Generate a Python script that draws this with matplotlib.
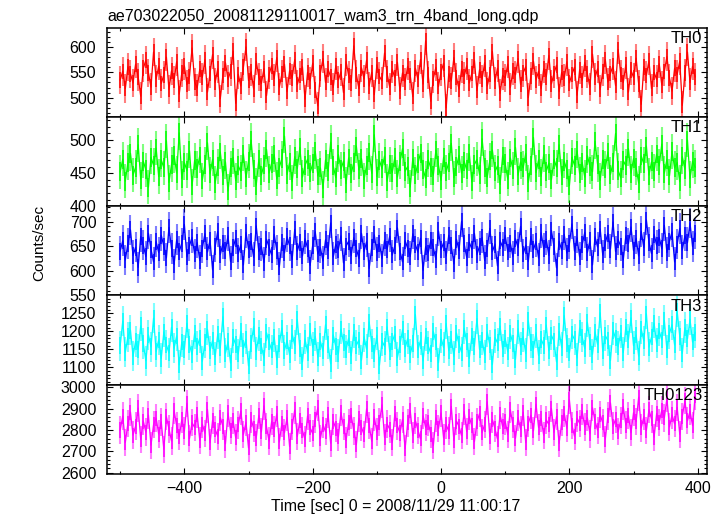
#!/usr/bin/env python3
"""Stacked WAM light curves (TH0..TH3 and summed band) as in the qdp plot."""
from __future__ import annotations

import matplotlib

matplotlib.use("Agg")
import matplotlib.pyplot as plt  # noqa: E402
import numpy as np  # noqa: E402
from matplotlib.ticker import FixedLocator, MultipleLocator  # noqa: E402

TITLE = "ae703022050_20081129110017_wam3_trn_4band_long.qdp"
XLABEL = "Time [sec] 0 = 2008/11/29 11:00:17"
YLABEL = "Counts/sec"

# time bins (sec from 2008/11/29 11:00:17), 4 s wide
T_START = -500
BIN_SIZE = 4

band_names = ["TH0", "TH1", "TH2", "TH3", "TH0123"]
band_colors = ["#ff0000", "#00ff00", "#0000ff", "#00ffff", "#ff00ff"]
band_errors = [28, 26, 31, 42, 64]

th0 = [
    535, 552, 518, 561, 547, 529, 566, 541, 503, 558, 574, 549, 521, 590, 537,
    562, 528, 545, 580, 516, 553, 534, 571, 507, 549, 563, 526, 542, 598, 531,
    519, 556, 540, 575, 511, 548, 585, 530, 557, 498, 544, 569, 536, 552, 592,
    489, 546, 523, 560, 600, 534, 551, 517, 572, 541, 528, 557, 504, 546, 563,
    538, 579, 521, 547, 566, 512, 553, 539, 575, 526, 544, 561, 497, 550, 533,
    568, 515, 484, 549, 577, 530, 556, 541, 520, 563, 535, 551, 510, 571, 544,
    529, 602, 546, 518, 559, 537, 574, 523, 550, 506, 565, 542, 533, 588, 547,
    521, 556, 539, 570, 513, 549, 531, 562, 544, 502, 558, 536, 575, 527, 612,
    545, 493, 538, 560, 522, 551, 568, 480, 547, 533, 579, 540, 517, 556, 542,
    563, 529, 548, 574, 514, 555, 537, 569, 523, 546, 591, 532, 558, 508, 544,
    539, 566, 520, 553, 545, 577, 526, 549, 561, 500, 543, 572, 535, 552, 518,
    557, 541, 583, 527, 548, 564, 512, 550, 538, 571, 529, 546, 560, 505, 555,
    534, 569, 547, 521, 586, 540, 557, 516, 552, 575, 531, 548, 563, 524, 595,
    546, 530, 565, 511, 554, 540, 578, 527, 487, 561, 544, 573, 518, 550, 536,
    567, 525, 552, 581, 539, 513, 558, 546, 572, 485, 549, 590, 530, 562, 541,
]
th1 = [
    452, 471, 438, 466, 480, 447, 459, 493, 441, 468, 455, 429, 474, 462, 488,
    445, 470, 458, 499, 436, 463, 477, 450, 511, 442, 466, 454, 484, 431, 469,
    457, 476, 440, 463, 496, 449, 471, 435, 460, 482, 446, 467, 423, 458, 474,
    439, 461, 452, 479, 443, 468, 500, 455, 432, 470, 447, 463, 486, 450, 465,
    478, 441, 459, 472, 506, 448, 466, 437, 475, 457, 489, 444, 462, 471, 451,
    464, 483, 446, 458, 427, 470, 453, 497, 461, 443, 478, 456, 468, 434, 473,
    449, 466, 491, 455, 472, 440, 462, 481, 450, 508, 445, 469, 457, 476, 438,
    463, 451, 474, 444, 467, 487, 453, 460, 429, 472, 448, 465, 480, 456, 442,
    470, 458, 447, 485, 462, 439, 474, 452, 466, 495, 443, 460, 477, 450, 468,
    455, 480, 437, 463, 471, 448, 502, 459, 444, 469, 485, 452, 461, 433, 476,
    464, 441, 473, 456, 489, 447, 467, 458, 480, 436, 462, 504, 451, 470, 445,
    478, 453, 465, 440, 471, 459, 493, 446, 468, 455, 431, 474, 462, 484, 449,
    466, 444, 477, 460, 452, 498, 463, 439, 471, 457, 482, 448, 466, 510, 454,
    443, 469, 461, 487, 450, 472, 458, 435, 476, 464, 491, 447, 467, 453, 479,
    461, 494, 450, 471, 446, 483, 458, 466, 437, 475, 456, 500, 442, 468, 459,
]
th2 = [
    640, 661, 622, 655, 683, 631, 648, 607, 670, 652, 629, 676, 644, 618, 659,
    637, 672, 650, 626, 688, 645, 613, 663, 639, 656, 694, 628, 651, 668, 634,
    657, 621, 646, 675, 638, 662, 602, 649, 680, 633, 655, 641, 671, 619, 647,
    666, 635, 653, 612, 678, 644, 660, 627, 691, 639, 650, 617, 664, 648, 632,
    674, 642, 608, 657, 636, 669, 651, 623, 684, 640, 658, 630, 665, 646, 611,
    652, 679, 634, 647, 620, 663, 641, 697, 628, 654, 643, 671, 616, 650, 660,
    631, 667, 645, 625, 676, 639, 659, 605, 648, 673, 637, 656, 624, 662, 644,
    670, 632, 651, 687, 640, 618, 661, 646, 629, 675, 653, 638, 666, 601, 649,
    636, 662, 647, 623, 681, 643, 657, 630, 672, 651, 614, 664, 641, 700, 655,
    627, 658, 644, 676, 633, 650, 668, 621, 645, 686, 639, 654, 610, 661, 648,
    672, 638, 656, 629, 665, 647, 690, 634, 652, 619, 670, 643, 659, 626, 677,
    645, 664, 631, 682, 649, 606, 660, 642, 674, 636, 655, 695, 640, 667, 628,
    653, 678, 637, 661, 612, 669, 648, 685, 632, 657, 676, 644, 699, 639, 663,
    650, 622, 671, 655, 689, 641, 666, 630, 680, 647, 703, 658, 635, 674, 652,
    668, 645, 692, 637, 660, 679, 618, 654, 686, 642, 671, 657, 697, 649, 676,
]
th3 = [
    1160, 1228, 1142, 1185, 1203, 1131, 1172, 1150, 1215, 1166, 1118, 1190, 1157, 1236, 1144,
    1176, 1125, 1198, 1162, 1140, 1211, 1153, 1187, 1107, 1170, 1149, 1222, 1163, 1135, 1194,
    1158, 1181, 1117, 1168, 1205, 1146, 1175, 1129, 1192, 1154, 1240, 1139, 1171, 1112, 1183,
    1163, 1137, 1199, 1152, 1178, 1104, 1166, 1213, 1143, 1188, 1159, 1126, 1196, 1170, 1148,
    1184, 1121, 1167, 1209, 1147, 1175, 1134, 1193, 1161, 1232, 1152, 1115, 1179, 1141, 1201,
    1155, 1186, 1128, 1172, 1145, 1218, 1164, 1110, 1190, 1157, 1137, 1206, 1168, 1149, 1181,
    1132, 1197, 1161, 1176, 1120, 1185, 1150, 1226, 1165, 1139, 1189, 1106, 1173, 1158, 1212,
    1144, 1171, 1192, 1127, 1163, 1204, 1153, 1180, 1136, 1167, 1246, 1148, 1175, 1118, 1187,
    1160, 1139, 1199, 1170, 1113, 1182, 1155, 1221, 1146, 1178, 1130, 1195, 1164, 1142, 1208,
    1171, 1125, 1187, 1158, 1235, 1149, 1176, 1134, 1198, 1162, 1108, 1183, 1168, 1214, 1151,
    1180, 1143, 1193, 1166, 1122, 1207, 1157, 1185, 1138, 1229, 1169, 1150, 1196, 1133, 1178,
    1161, 1217, 1146, 1189, 1172, 1115, 1200, 1155, 1243, 1167, 1140, 1192, 1177, 1126, 1209,
    1184, 1152, 1225, 1170, 1136, 1198, 1163, 1251, 1145, 1188, 1174, 1119, 1203, 1181, 1158,
    1195, 1141, 1212, 1177, 1237, 1160, 1190, 1131, 1206, 1173, 1248, 1156, 1184, 1222, 1167,
    1201, 1176, 1230, 1149, 1194, 1218, 1162, 1255, 1186, 1139, 1210, 1179, 1233, 1170, 1197,
]
th0123 = [
    2800, 2865, 2742, 2831, 2884, 2776, 2818, 2903, 2755, 2842, 2790, 2870, 2729, 2825, 2856,
    2781, 2838, 2710, 2862, 2805, 2748, 2891, 2820, 2769, 2848, 2795, 2925, 2760, 2834, 2812,
    2873, 2752, 2827, 2785, 2896, 2740, 2846, 2803, 2771, 2859, 2818, 2735, 2880, 2797, 2843,
    2764, 2824, 2889, 2779, 2836, 2716, 2851, 2806, 2762, 2868, 2791, 2913, 2815, 2748, 2839,
    2801, 2876, 2744, 2832, 2787, 2858, 2723, 2817, 2894, 2770, 2845, 2798, 2754, 2866, 2810,
    2783, 2848, 2904, 2759, 2826, 2792, 2873, 2738, 2841, 2809, 2768, 2882, 2815, 2751, 2836,
    2870, 2796, 2731, 2855, 2813, 2778, 2899, 2822, 2747, 2861, 2790, 2837, 2918, 2765, 2828,
    2804, 2742, 2876, 2819, 2786, 2850, 2712, 2833, 2891, 2774, 2845, 2799, 2758, 2867, 2812,
    2835, 2781, 2727, 2857, 2806, 2880, 2763, 2824, 2795, 2910, 2751, 2842, 2817, 2773, 2886,
    2793, 2862, 2819, 2745, 2838, 2877, 2788, 2826, 2932, 2769, 2849, 2807, 2757, 2871, 2816,
    2840, 2779, 2895, 2825, 2761, 2858, 2803, 2884, 2741, 2832, 2869, 2796, 2921, 2812, 2853,
    2775, 2847, 2826, 2901, 2789, 2863, 2737, 2835, 2878, 2808, 2941, 2822, 2771, 2856, 2831,
    2887, 2814, 2858, 2782, 2905, 2841, 2799, 2872, 2833, 2756, 2866, 2927, 2818, 2850, 2792,
    2845, 2909, 2823, 2868, 2787, 2881, 2839, 2954, 2810, 2862, 2798, 2895, 2852, 2766, 2877,
    2836, 2893, 2857, 2948, 2814, 2871, 2829, 2906, 2780, 2864, 2937, 2843, 2888, 2821, 2960,
]

# axis ranges and ticks per panel
y_limits = [(462, 638), (400, 535), (550, 731), (1052, 1299), (2594, 3012)]
y_major = [
    [500, 550, 600],
    [400, 450, 500],
    [550, 600, 650, 700],
    [1100, 1150, 1200, 1250],
    [2600, 2700, 2800, 2900, 3000],
]
y_minor_step = [10, 10, 10, 10, 20]
x_limits = (-521, 414)
x_major = [-400, -200, 0, 200, 400]

FONT = ["Liberation Sans", "DejaVu Sans"]


def main() -> None:
    plt.rcParams["font.family"] = FONT
    plt.rcParams["font.size"] = 11
    series = [th0, th1, th2, th3, th0123]

    fig, axes = plt.subplots(5, 1, sharex=True, figsize=(7.24, 5.16), dpi=100)
    fig.subplots_adjust(left=0.1474, right=0.9761, top=0.9463, bottom=0.0814, hspace=0)

    for i, ax in enumerate(axes):
        vals = np.asarray(series[i], dtype=float)
        t = T_START + BIN_SIZE * np.arange(len(vals))
        err = band_errors[i]
        # error bars (lighter) and the value trace (solid)
        ax.vlines(t, vals - err, vals + err, colors=band_colors[i], linewidth=1.5, alpha=0.5)
        ax.vlines(t, vals - 0.55 * err, vals + 0.55 * err, colors=band_colors[i], linewidth=1.1)
        ax.plot(t, vals, color=band_colors[i], linewidth=0.9)

        ax.set_xlim(*x_limits)
        ax.set_ylim(*y_limits[i])
        ax.yaxis.set_major_locator(FixedLocator(y_major[i]))
        ax.yaxis.set_minor_locator(MultipleLocator(y_minor_step[i]))
        ax.xaxis.set_major_locator(FixedLocator(x_major))
        ax.xaxis.set_minor_locator(MultipleLocator(100))
        ax.tick_params(which="both", direction="in", top=True, right=True, width=0.8)
        ax.tick_params(which="major", length=4.5, pad=7.5, labelsize=11.5)
        ax.tick_params(which="minor", length=2.3)
        ax.tick_params(axis="x", which="major", pad=5)
        for sp in ax.spines.values():
            sp.set_linewidth(1.1)
        ax.text(0.993, 0.965, band_names[i], transform=ax.transAxes,
                ha="right", va="top", fontsize=12)

    fig.text(0.148, 0.9599, TITLE, ha="left", va="baseline", fontsize=11.5)
    fig.text(0.546, 0.0184, XLABEL, ha="center", va="center", fontsize=11.5)
    fig.text(0.0546, 0.529, YLABEL, ha="center", va="center", rotation=90, fontsize=11)

    fig.savefig("out.png", dpi=100)
    plt.close(fig)


if __name__ == "__main__":
    main()
